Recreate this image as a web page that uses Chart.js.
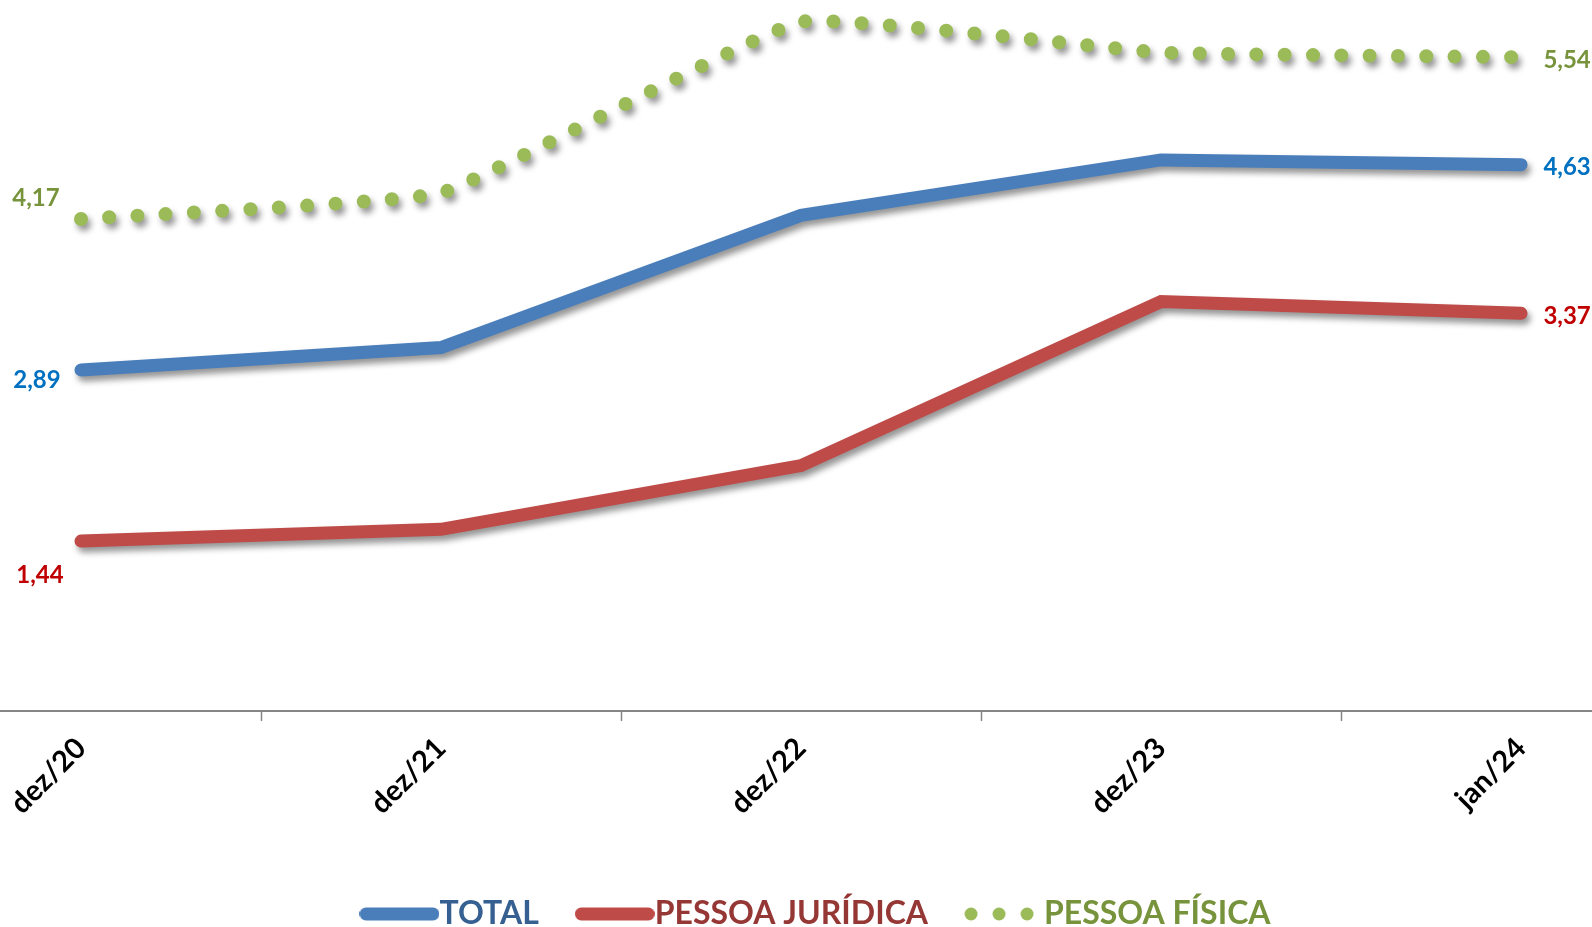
<!DOCTYPE html>
<html lang="pt-BR">
<head>
<meta charset="utf-8">
<title>Inadimplência</title>
<script src="https://cdn.jsdelivr.net/npm/chart.js@4.4.1/dist/chart.umd.min.js"></script>
<style>
  html, body { margin: 0; padding: 0; background: #fff; overflow: hidden; }
  #box { width: 1592px; height: 940px; position: relative; }
</style>
</head>
<body>
<div id="box"><canvas id="grafico"></canvas></div>
<script>
// dados
const categorias     = ['dez/20', 'dez/21', 'dez/22', 'dez/23', 'jan/24'];
const total          = [2.89, 3.08, 4.20, 4.67, 4.63];
const pessoaJuridica = [1.44, 1.54, 2.08, 3.47, 3.37];
const pessoaFisica   = [4.17, 4.39, 5.84, 5.58, 5.54];
const nomesSeries    = ['TOTAL', 'PESSOA JURÍDICA', 'PESSOA FÍSICA'];

// marcas do eixo x ficam entre as categorias
const posicoesTicks = categorias.flatMap((c, i) => i ? [i - 0.5, i] : [i]);

const fmt = v => v.toFixed(2).replace('.', ',');
const pontos = arr => arr.map((v, i) => ({ x: i, y: v }));

Chart.defaults.font.family = 'Lato';
Chart.defaults.font.weight = 'bold';

// amostras da legenda
function amostraLinha(cor) {
  const cv = document.createElement('canvas');
  cv.width = 80; cv.height = 14;
  const c = cv.getContext('2d');
  c.strokeStyle = cor; c.lineWidth = 13; c.lineCap = 'round';
  c.beginPath(); c.moveTo(6.5, 7); c.lineTo(73.5, 7); c.stroke();
  return cv;
}
function amostraPontos(cor) {
  const cv = document.createElement('canvas');
  cv.width = 80; cv.height = 14;
  const c = cv.getContext('2d');
  c.fillStyle = cor;
  [7, 35, 63].forEach(x => { c.beginPath(); c.arc(x, 7, 6.5, 0, Math.PI * 2); c.fill(); });
  return cv;
}

// sombra das linhas (estilo Excel)
const sombra = {
  id: 'sombra',
  beforeDatasetDraw(chart) {
    const c = chart.ctx;
    c.save();
    c.shadowColor = 'rgba(0,0,0,0.42)';
    c.shadowBlur = 6;
    c.shadowOffsetX = 3;
    c.shadowOffsetY = 5;
  },
  afterDatasetDraw(chart) { chart.ctx.restore(); }
};

// rótulos no primeiro e no último ponto
const rotulos = {
  id: 'rotulos',
  afterDatasetsDraw(chart) {
    const c = chart.ctx;
    c.save();
    c.font = 'bold 24px Lato';
    c.textAlign = 'center';
    c.textBaseline = 'middle';
    chart.data.datasets.forEach((ds, i) => {
      const pts = chart.getDatasetMeta(i).data;
      const ult = pts.length - 1;
      c.fillStyle = ds.corRotulo;
      [[0, ds.deslocRotulo[0]], [ult, ds.deslocRotulo[1]]].forEach(([k, d]) => {
        c.fillText(fmt(ds.data[k].y), pts[k].x + d[0], pts[k].y + d[1]);
      });
    });
    c.restore();
  }
};

// legenda um pouco à direita, como no original
const ajusteLegenda = {
  id: 'ajusteLegenda',
  afterLayout(chart) {
    chart.legend.left  += 27;
    chart.legend.right += 27;
  }
};

const ctx = document.getElementById('grafico').getContext('2d');
new Chart(ctx, {
  type: 'line',
  data: {
    datasets: [{
      label: nomesSeries[0],
      data: pontos(total),
      borderColor: '#4A7EBB',
      borderWidth: 13,
      borderCapStyle: 'round',
      borderJoinStyle: 'miter',
      tension: 0,
      corRotulo: '#0070C0',
      corLegenda: '#376092',
      amostra: amostraLinha('#4A7EBB'),
      deslocRotulo: [[-44, 10], [46, 3]]
    }, {
      label: nomesSeries[1],
      data: pontos(pessoaJuridica),
      borderColor: '#BE4B48',
      borderWidth: 13,
      borderCapStyle: 'round',
      borderJoinStyle: 'miter',
      tension: 0,
      corRotulo: '#C00000',
      corLegenda: '#953735',
      amostra: amostraLinha('#BE4B48'),
      deslocRotulo: [[-41, 34], [46, 3]]
    }, {
      label: nomesSeries[2],
      data: pontos(pessoaFisica),
      borderColor: '#9BBB59',
      borderWidth: 14,
      borderCapStyle: 'round',
      borderDash: [0, 28.3],
      tension: 0.1,
      corRotulo: '#77933C',
      corLegenda: '#77933C',
      amostra: amostraPontos('#9BBB59'),
      deslocRotulo: [[-45, -21], [46, 3]]
    }]
  },
  options: {
    responsive: true,
    maintainAspectRatio: false,
    animation: false,
    layout: { padding: { top: 3, left: 0, right: 0, bottom: 0 } },
    elements: { point: { radius: 0, hoverRadius: 0 } },
    datasets: { line: { clip: false, fill: false } },
    plugins: {
      tooltip: { enabled: false },
      legend: {
        position: 'bottom',
        labels: {
          usePointStyle: true,
          pointStyleWidth: 48,
          boxHeight: 14,
          padding: 52,
          font: { size: 32, weight: 'bold' },
          generateLabels: chart => chart.data.datasets.map((ds, i) => ({
            text: ds.label,
            fontColor: ds.corLegenda,
            pointStyle: ds.amostra,
            datasetIndex: i,
            hidden: false,
            lineWidth: 0,
            fillStyle: 'transparent',
            strokeStyle: 'transparent'
          }))
        }
      }
    },
    scales: {
      x: {
        type: 'linear',
        bounds: 'data',
        min: -0.225,
        max: 4.197,
        afterBuildTicks: s => { s.ticks = posicoesTicks.map(v => ({ value: v })); },
        afterFit: s => { s.height = 135; },
        ticks: {
          autoSkip: false,
          minRotation: 45,
          maxRotation: 45,
          padding: 10,
          labelOffset: 0,
          color: '#000',
          font: { size: 29, weight: 'bold' },
          callback: v => Number.isInteger(v) ? categorias[v] : ''
        },
        grid: {
          drawOnChartArea: false,
          drawTicks: true,
          tickLength: 10,
          tickWidth: 1.5,
          tickColor: c => Number.isInteger(c.tick && c.tick.value) ? 'rgba(0,0,0,0)' : '#868686'
        },
        border: { display: true, color: '#868686', width: 2 }
      },
      y: {
        display: false,
        min: 0,
        max: 6
      }
    }
  },
  plugins: [sombra, rotulos, ajusteLegenda]
});
</script>
</body>
</html>
